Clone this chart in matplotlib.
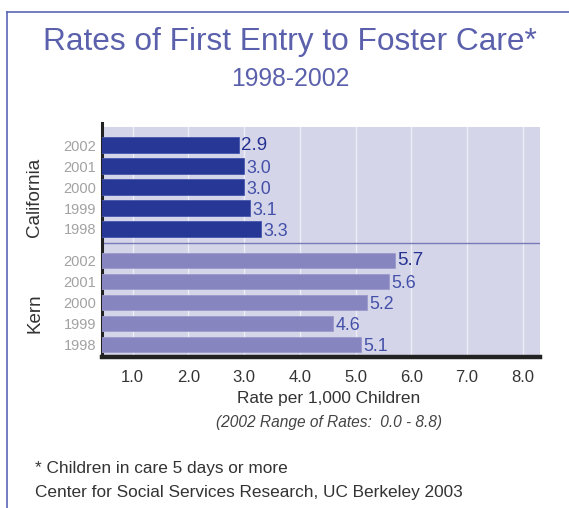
import matplotlib
matplotlib.use("Agg")
import matplotlib.pyplot as plt
from matplotlib.lines import Line2D

plt.rcParams['font.family'] = ['Liberation Sans', 'DejaVu Sans']

years = ["2002", "2001", "2000", "1999", "1998"]
california = [2.9, 3.0, 3.0, 3.1, 3.3]
kern = [5.7, 5.6, 5.2, 4.6, 5.1]
groups = ["California", "Kern"]
xticks = [1.0, 2.0, 3.0, 4.0, 5.0, 6.0, 7.0, 8.0]

fig = plt.figure(figsize=(5.69, 5.08), dpi=100)
ax = fig.add_axes([102/569, 1-357/508, (540-102)/569, (357-127)/508])
ax.set_facecolor('#d5d5ea')

cal_pos = [0, 1, 2, 3, 4]
kern_pos = [5.5, 6.5, 7.5, 8.5, 9.5]
h = 0.74
ax.barh(cal_pos, california, height=h, color='#263796', edgecolor='#4656ac', linewidth=0.6, zorder=3)
ax.barh(kern_pos, kern, height=h, color='#8785c0', edgecolor='#9c9acb', linewidth=0.6, zorder=3)

for vals, pos in ((california, cal_pos), (kern, kern_pos)):
    for i, (v, p) in enumerate(zip(vals, pos)):
        if i == 0:
            ax.text(v + 0.05, p, f"{v:.1f}", va='center', ha='left', fontsize=13.5,
                    color='#253190', zorder=4)
        else:
            ax.text(v + 0.04, p + 0.1, f"{v:.1f}", va='center', ha='left', fontsize=12.8,
                    color='#4350a8', zorder=4)

ax.set_xlim(0.45, 8.31)
ax.set_ylim(10.1, -0.86)
ax.set_xticks(xticks)
ax.set_xticklabels([f"{t:.1f}" for t in xticks], fontsize=12, color='#333333')
ax.tick_params(axis='x', length=0, pad=9)
ax.set_yticks(cal_pos + kern_pos)
ax.set_yticklabels(years + years, fontsize=10.5, color='#a2a2a2')
ax.tick_params(axis='y', length=0, pad=4)
ax.grid(axis='x', color='#eeeef7', linewidth=1.0, zorder=1)
ax.set_axisbelow(True)

ax.axhline(4.67, color='#7a7ab8', linewidth=1.0, zorder=2)

for s in ('top', 'right'):
    ax.spines[s].set_visible(False)
ax.spines['left'].set_color('#222222')
ax.spines['left'].set_linewidth(2.2)
ax.spines['left'].set_bounds(10.1, -1.05)
ax.spines['bottom'].set_color('#222222')
ax.spines['bottom'].set_linewidth(3.2)

# group labels
fig.text(35/569, 1-197/508, groups[0], rotation=90, ha='center', va='center', fontsize=13.5, color='#333333')
fig.text(35/569, 1-313/508, groups[1], rotation=90, ha='center', va='center', fontsize=13.5, color='#333333')

# titles
fig.text(290/569, 1-42/508, "Rates of First Entry to Foster Care*", ha='center', va='center',
         fontsize=22.8, color='#5a60ab')
fig.text(290/569, 1-79/508, "1998-2002", ha='center', va='center', fontsize=17.8, color='#5a60ab')

fig.text(329/569, 1-398/508, "Rate per 1,000 Children", ha='center', va='center', fontsize=12.4, color='#333333')
fig.text(329/569, 1-423/508, "(2002 Range of Rates:  0.0 - 8.8)", ha='center', va='center', fontsize=11.2,
         style='italic', color='#444444')
fig.text(35/569, 1-468/508, "* Children in care 5 days or more", ha='left', va='center', fontsize=12.4, color='#333333')
fig.text(35/569, 1-493/508, "Center for Social Services Research, UC Berkeley 2003", ha='left', va='center',
         fontsize=12.4, color='#333333')

# frame lines
fig.add_artist(Line2D([7/569, 7/569], [0, 1-12/508], transform=fig.transFigure, color='#5b66b5', linewidth=1.2))
fig.add_artist(Line2D([7/569, 1], [1-12/508, 1-12/508], transform=fig.transFigure, color='#5b66b5', linewidth=1.2))

fig.savefig("out.png", dpi=100)
